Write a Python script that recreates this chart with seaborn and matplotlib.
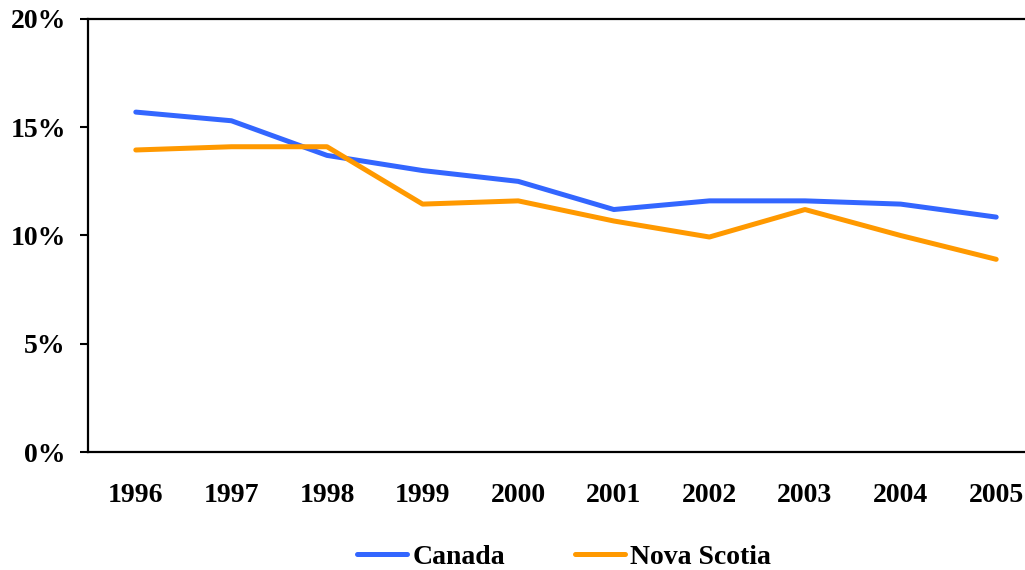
import pandas as pd
import seaborn as sns
import matplotlib.pyplot as plt
from matplotlib.ticker import PercentFormatter

years = ["1996", "1997", "1998", "1999", "2000", "2001", "2002", "2003", "2004", "2005"]
canada = [15.7, 15.3, 13.7, 13.0, 12.5, 11.2, 11.6, 11.6, 11.45, 10.85]
nova_scotia = [13.95, 14.1, 14.1, 11.45, 11.6, 10.67, 9.93, 11.2, 10.0, 8.9]
series_names = ["Canada", "Nova Scotia"]
colors = ["#3366FF", "#FF9900"]

df = pd.DataFrame({
    "year": years * 2,
    "value": canada + nova_scotia,
    "series": [series_names[0]] * len(years) + [series_names[1]] * len(years),
})

sns.set_style("white")
plt.rcParams["font.family"] = ["Liberation Serif", "DejaVu Serif"]
plt.rcParams["font.weight"] = "bold"
plt.rcParams["text.color"] = "black"
plt.rcParams["xtick.color"] = "black"
plt.rcParams["ytick.color"] = "black"

fig = plt.figure(figsize=(10.25, 5.70), dpi=100)
# axes runs past the right edge of the figure, as in the reference
ax = fig.add_axes([88 / 1025, 118 / 570, 956 / 1025, 433 / 570])

sns.lineplot(data=df, x="year", y="value", hue="series",
             palette=colors, linewidth=3.6, sort=False, ax=ax)

ax.set_xlim(-0.5, len(years) - 0.5)
ax.set_ylim(0, 20)
ax.set_yticks([0, 5, 10, 15, 20])
ax.yaxis.set_major_formatter(PercentFormatter(decimals=0))
ax.set_xlabel("")
ax.set_ylabel("")

for s in ["left", "bottom", "top", "right"]:
    ax.spines[s].set_visible(True)
    ax.spines[s].set_linewidth(1.6)
    ax.spines[s].set_color("black")

ax.tick_params(axis="y", which="major", left=True, length=6, width=1.5,
               direction="out", pad=10, labelsize=20, colors="black")
ax.tick_params(axis="x", which="major", bottom=False, pad=19, labelsize=20,
               colors="black")
for lbl in ax.get_xticklabels() + ax.get_yticklabels():
    lbl.set_fontweight("bold")

leg = ax.legend(loc="center", bbox_to_anchor=(564 / 1025, 13 / 570),
                bbox_transform=fig.transFigure, ncol=2, frameon=False,
                prop={"size": 20, "weight": "bold"}, handlelength=1.8,
                handletextpad=0.2, columnspacing=2.5)
for t in leg.get_texts():
    t.set_color("black")

fig.savefig("out.png", dpi=100)
plt.close(fig)
